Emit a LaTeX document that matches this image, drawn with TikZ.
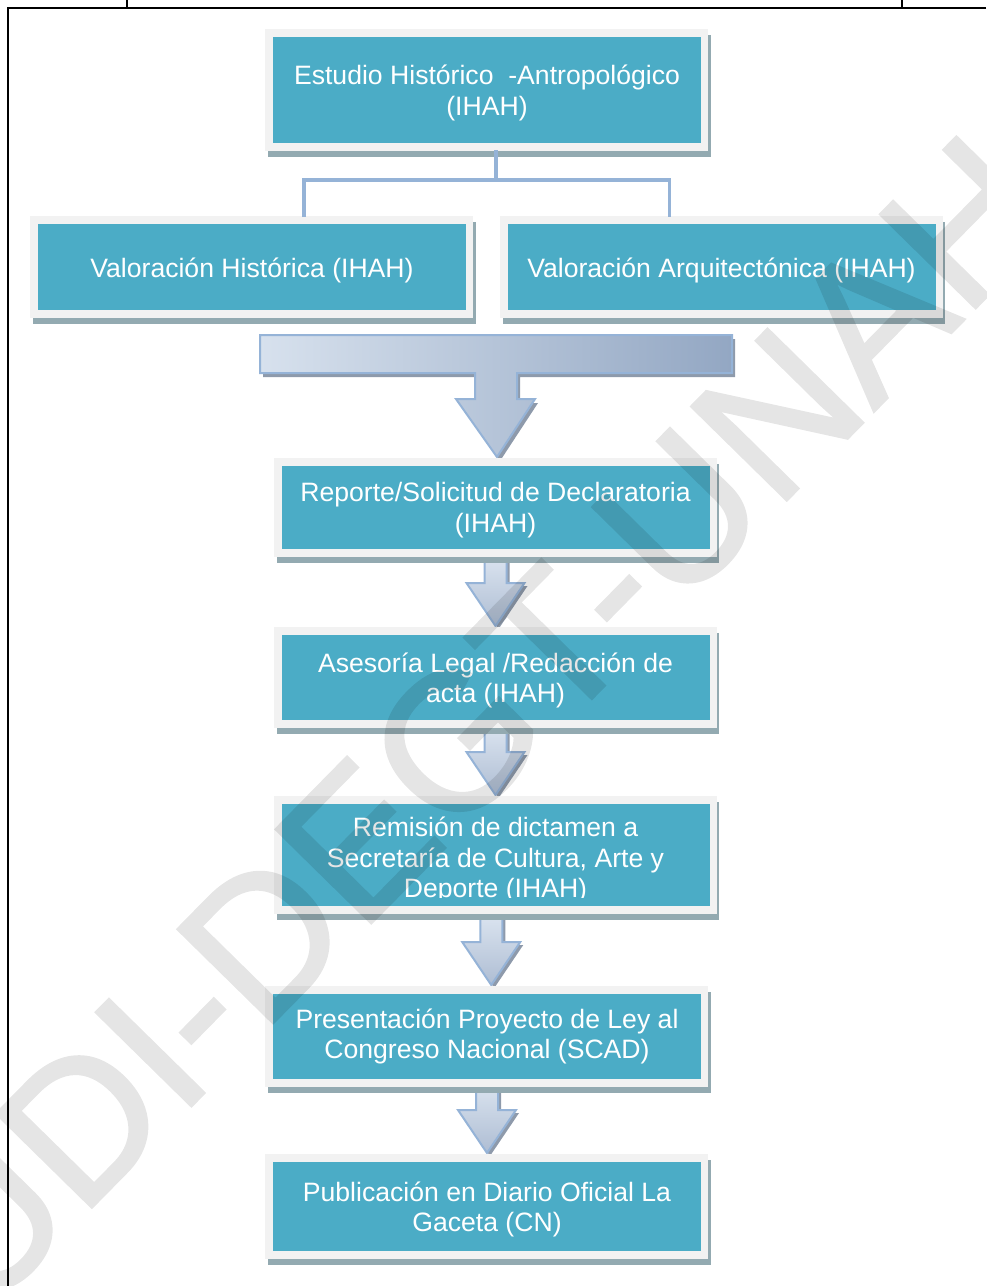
\documentclass[tikz,border=0pt]{standalone}
\usepackage{fontspec}
\setmainfont{Liberation Sans}
\newfontfamily\marcafont[FakeBold=1.5]{Liberation Sans}
\usetikzlibrary{calc,backgrounds}

\definecolor{cajaazul}{HTML}{4BACC6}
\definecolor{marcogris}{HTML}{F2F2F2}
\definecolor{sombragris}{HTML}{93AAB1}
\definecolor{lineaazul}{HTML}{95B3D7}
\definecolor{flechaclara}{HTML}{DDE6F1}
\definecolor{flechamedia}{HTML}{AEBDD3}
\definecolor{flechaoscura}{HTML}{93A7C3}
\definecolor{flechasombra}{HTML}{8E9AAB}

\newcommand{\etapafont}{\fontsize{13.3}{15.4}\selectfont}

% flecha de bloque entre dos etapas (#3: altura de la punta)
\newcommand{\flechita}[3]{%
  \coordinate (m) at ($(#1.south)!.5!(#2.north)$);
  \coordinate (tip) at ($(m |- #2.north)+(0,#3)$);
  \coordinate (base) at (m |- #1.south);
  \path[sombraflecha] ($(tip)+(3,3)$) -- ++(29,-43) -- ++(-18,0) -- ($(base)+(14,3)$)
    -- ($(base)+(-8,3)$) -- ($(tip)+(-8,-40)$) -- ++(-18,0) -- cycle;
  \path[flecha] (tip) -- ++(29,-43) -- ++(-18,0) -- ($(base)+(11,0)$)
    -- ($(base)+(-11,0)$) -- ($(tip)+(-11,-43)$) -- ++(-18,0) -- cycle;
}

\begin{document}
\begin{tikzpicture}[x=0.5pt,y=-0.5pt]
      \tikzstyle{etapa}=[text=white,font=\etapafont,align=center,inner sep=0pt,outer sep=0pt,minimum width=214pt];
      \tikzstyle{caja}=[fill=cajaazul];
      \tikzstyle{marco}=[fill=marcogris];
      \tikzstyle{sombra}=[fill=sombragris];
      \tikzstyle{conector}=[draw=lineaazul,line width=1.6pt];
      \tikzstyle{flecha}=[draw=lineaazul,line width=1pt,top color=flechaclara,bottom color=flechamedia];
      \tikzstyle{flechagrande}=[draw=lineaazul,line width=1pt,left color=flechaclara!92!flechaoscura,middle color=flechaclara,right color=flechaoscura];
      \tikzstyle{sombraflecha}=[fill=flechasombra];
      \tikzstyle{marcaagua}=[font=\marcafont\fontsize{97}{97}\selectfont,text=black,inner sep=0pt];
      \tikzstyle{borde}=[draw=black,line width=1pt];

      \useasboundingbox (0,0) rectangle (986,1286);

      \node[etapa,minimum height=53pt](estudio) at (487,93) {Estudio Histórico\ \ -Antropológico\\(IHAH)};
      \node[etapa,minimum height=43pt](vhist) at (252,270) {Valoración Histórica (IHAH)};
      \node[etapa,minimum height=43pt](varq) at (721.5,270) {Valoración Arquitectónica (IHAH)};
      \node[etapa,minimum height=41.5pt](reporte) at (495.5,510.5) {Reporte/Solicitud de Declaratoria\\(IHAH)};
      \node[etapa,minimum height=42.5pt](asesoria) at (495.5,680.5) {Asesoría Legal /Redacción de\\acta (IHAH)};
      \begin{scope}
        \clip (282,804) rectangle (709,897);
        \node[etapa,minimum height=51pt](remision) at (495.5,860) {Remisión de dictamen a\\Secretaría de Cultura, Arte y\\Deporte (IHAH)};
      \end{scope}
      \node[etapa,minimum height=42.5pt](presentacion) at (487,1036.5) {Presentación Proyecto de Ley al\\Congreso Nacional (SCAD)};
      \node[etapa,minimum height=44.5pt](publicacion) at (487,1209.5) {Publicación en Diario Oficial La\\Gaceta (CN)};

      \draw[conector] ($(estudio.south)+(9,4)$) -- ++(0,30) coordinate (rama);
      \draw[conector] ($(vhist.north)+(52,-10)$) |- (rama) -| ($(varq.north)+(-52,-10)$);

      \begin{pgfonlayer}{background}
        \coordinate (puntaT) at ($(reporte.north)+(1.5,-12)$);
        \path[sombraflecha] ($(puntaT)+(3,4)$) -- ++(38,-58) -- ++(-18,0) -- ++(0,-26) -- ++(215,0) -- ++(0,-38)
          -- ++(-472,0) -- ++(0,38) -- ++(215,0) -- ++(0,26) -- ++(-19,0) -- cycle;
        \path[flechagrande] (puntaT) -- ++(38,-58) -- ++(-18,0) -- ++(0,-26) -- ++(215,0) -- ++(0,-38)
          -- ++(-472,0) -- ++(0,38) -- ++(215,0) -- ++(0,26) -- ++(-19,0) -- cycle;
        \flechita{reporte}{asesoria}{-12}
        \flechita{asesoria}{remision}{-14}
        \flechita{remision}{presentacion}{-9}
        \flechita{presentacion}{publicacion}{-12}
        \foreach \n/\d in {estudio/3,vhist/3,varq/3,reporte/3,asesoria/3,remision/5,presentacion/0,publicacion/3}{
          \path[sombra] ($(\n.north west)+(-5,-2-\d)$) rectangle ($(\n.south east)+(9.5,13.5-\d)$);
          \path[marco] ($(\n.north west)+(-8,-8-\d)$) rectangle ($(\n.south east)+(7,8-\d)$);
          \path[caja] ($(\n.north west)+(0,-\d)$) rectangle ($(\n.south east)+(0,-\d)$);
        }
      \end{pgfonlayer}

      \begin{scope}[transparency group,opacity=0.1]
        \node[marcaagua,rotate=45.5](marca) at (475,722) {UDI-DEGT-UNAH};
      \end{scope}

      \draw[borde] (986,8) -- (8,8) -- (8,1286);
      \draw[borde] (127,0) -- (127,8);
      \draw[borde] (902,0) -- (902,8);

    \end{tikzpicture}
\end{document}
